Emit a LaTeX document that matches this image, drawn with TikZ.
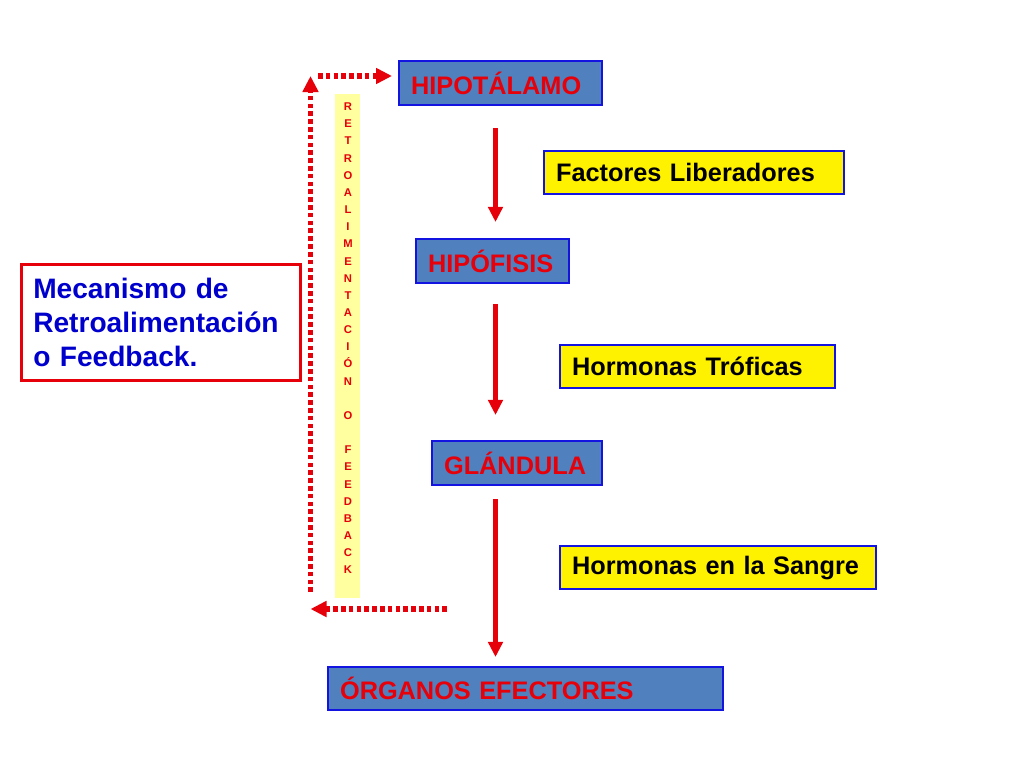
\documentclass[tikz,border=0pt]{standalone}
\usepackage{fontspec}
\setmainfont{Liberation Sans}
\usetikzlibrary{arrows.meta,calc}

\definecolor{rojo}{RGB}{230,0,10}
\definecolor{azulAcero}{RGB}{80,128,190}
\definecolor{bordeAzul}{RGB}{20,20,225}
\definecolor{azulTexto}{RGB}{0,0,205}
\definecolor{amarilloClaro}{RGB}{255,255,160}

\tikzset{
  organo/.style={draw=bordeAzul, line width=1.5pt, fill=azulAcero, text=rojo,
    font=\bfseries\fontsize{18}{21.6}\selectfont, anchor=north west,
    inner xsep=0.3cm, inner ysep=0pt, minimum height=1.1cm, align=left},
  factor/.style={organo, fill=yellow, text=black, minimum height=1.075cm},
  flecha/.style={draw=rojo, line width=3.2pt, -{Triangle[width=0.36cm,length=0.38cm]}},
  retro/.style={draw=rojo, line width=0.13cm, dash pattern=on 0.115cm off 0.08cm,
    -{Triangle[width=0.38cm,length=0.4cm]}},
  letra/.style={text=rojo, font=\bfseries\fontsize{8}{9.6}\selectfont, anchor=base, inner sep=0pt}
}

\begin{document}
\begin{tikzpicture}[x=0.025cm, y=-0.025cm]
    \useasboundingbox (0,0) rectangle (1024,768);
    % cajas principales
    \node[organo, text width=4.475cm] (hipo) at (398,60) {HIPOTÁLAMO};
    \node[organo, text width=3.225cm] (hipof) at (415,238) {HIPÓFISIS};
    \node[organo, text width=3.65cm] (gland) at (431,440) {GLÁNDULA};
    \node[organo, text width=9.275cm, minimum height=1.075cm] (organ) at (327,666) {ÓRGANOS EFECTORES};
    \node[factor, text width=6.9cm] (fact) at (543,150) {Factores Liberadores};
    \node[factor, text width=6.275cm] (trof) at (559,344) {Hormonas Tróficas};
    \node[factor, text width=7.3cm] (sang) at (559,545) {Hormonas en la Sangre};
    \node[draw=rojo, line width=1.8pt, fill=white, text=azulTexto, anchor=north west,
      font=\bfseries\fontsize{20}{24.2}\selectfont, align=left, text width=6.375cm,
      inner xsep=0.3cm, inner ysep=0pt, minimum height=2.9cm] (mec) at (20,263)
      {Mecanismo de\\Retroalimentación\\o Feedback.};
    % eje de las flechas
    \coordinate (eje) at (495.5,0);
    \draw[flecha, shorten <=0.55cm, shorten >=0.4cm] (hipo.south -| eje) -- (hipof.north -| eje);
    \draw[flecha, shorten <=0.5cm, shorten >=0.625cm] (hipof.south -| eje) -- (gland.north -| eje);
    \draw[flecha, shorten <=0.325cm, shorten >=0.225cm] (gland.south -| eje) -- (organ.north -| eje);
    % retroalimentacion
    \fill[amarilloClaro] (335,94) rectangle (360,598);
    \foreach \l [count=\i] in {R,E,T,R,O,A,L,I,M,E,N,T,A,C,I,Ó,N,,O,,F,E,E,D,B,A,C,K}
      \node[letra] (l\i) at (348,93.55+17.15*\i) {\l};
    \coordinate (fbBajo) at (447,609);
    \coordinate (fbEsq) at (310.5,592);
    \coordinate (fbAlto) at (318,76);
    \draw[retro] (fbBajo) -- (fbBajo -| fbEsq);
    \draw[retro] (fbEsq) -- (fbEsq |- fbAlto);
    \draw[retro, shorten >=0.15cm] (fbAlto) -- (fbAlto -| hipo.west);
\end{tikzpicture}
\end{document}
